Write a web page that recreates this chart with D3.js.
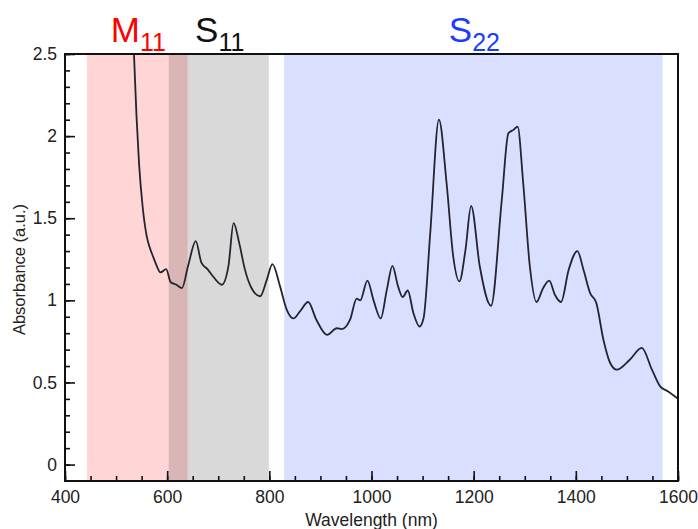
<!DOCTYPE html>
<html>
<head>
<meta charset="utf-8">
<script src="https://cdn.jsdelivr.net/npm/d3@7"></script>
<style>
  html, body { margin: 0; padding: 0; background: #fff; }
  svg { display: block; font-family: "Liberation Sans", Arial, Helvetica, sans-serif; }
</style>
</head>
<body>
<svg id="chart" width="698" height="529"></svg>
<script>
// Absorption spectrum: wavelength (nm) and absorbance (a.u.)
const wavelength = [
  535, 540, 545, 552, 560, 566, 572, 577, 587, 598, 607, 618, 629, 641, 656, 667, 679, 690, 707,
  720, 730, 741, 752, 765, 782, 795, 806, 821, 834, 847, 860, 876, 892, 913, 932, 942, 958,
  971, 978, 992, 1004, 1018, 1030, 1041, 1052, 1061, 1071, 1082, 1094, 1102, 1115, 1132,
  1147, 1160, 1172, 1184, 1195, 1212, 1234, 1255, 1268, 1278, 1286, 1297, 1310, 1323, 1336,
  1348, 1359, 1371, 1386, 1403, 1415, 1428, 1440, 1454, 1467, 1480, 1506, 1529, 1549, 1565,
  1580, 1600
];
const absorbance = [
  2.50, 2.12, 1.83, 1.57, 1.39, 1.32, 1.27, 1.23, 1.17, 1.19, 1.11, 1.095, 1.075, 1.21, 1.36, 1.23, 1.19, 1.145, 1.095,
  1.21, 1.47, 1.35, 1.19, 1.075, 1.025, 1.125, 1.22, 1.085, 0.943, 0.89, 0.933, 0.99, 0.882, 0.79, 0.83, 0.825, 0.882,
  1.01, 1.00, 1.12, 1.00, 0.89, 1.064, 1.21, 1.085, 1.02, 1.06, 0.923, 0.84, 0.892, 1.41, 2.10,
  1.713, 1.267, 1.115, 1.308, 1.575, 1.206, 0.967, 1.61, 2.018, 2.038, 2.058, 1.713, 1.206, 0.99, 1.075,
  1.12, 1.034, 0.99, 1.186, 1.30, 1.186, 1.044, 0.985, 0.76, 0.62, 0.578, 0.64, 0.71, 0.578, 0.476,
  0.446, 0.40
];

// Transition bands (nm)
const bandNames  = ["M11", "S11", "S22"];
const bandStart  = [443, 603, 829];
const bandEnd    = [640, 799, 1570];
const bandFill   = ["rgba(255,0,0,0.165)", "rgba(0,0,0,0.15)", "rgba(0,40,255,0.15)"];
const labelMain  = ["M", "S", "S"];
const labelSub   = ["11", "11", "22"];
const labelColor = ["#ff0000", "#111111", "#1a3cff"];

// Axis ticks
const xMajor = [400, 600, 800, 1000, 1200, 1400, 1600];
const xMinor = d3.range(400, 1601, 50);
const yMajor = [0, 0.5, 1, 1.5, 2, 2.5];
const yMinor = d3.range(0, 2.501, 0.1);
const yTickLabels = ["0", "0.5", "1", "1.5", "2", "2.5"];

const svg = d3.select("#chart");
const plotLeft = 65, plotRight = 678, plotTop = 54, plotBottom = 481;

const x = d3.scaleLinear().domain([400, 1600]).range([plotLeft, plotRight]);
const y = d3.scaleLinear().domain([-0.1, 2.5]).range([plotBottom, plotTop]);

svg.append("defs").append("clipPath").attr("id", "plot-clip")
  .append("rect").attr("x", plotLeft).attr("y", plotTop)
  .attr("width", plotRight - plotLeft).attr("height", plotBottom - plotTop);

// Shaded bands
const bands = svg.append("g");
bandNames.forEach((name, i) => {
  bands.append("rect")
    .attr("x", x(bandStart[i]))
    .attr("y", y(2.5))
    .attr("width", x(bandEnd[i]) - x(bandStart[i]))
    .attr("height", y(-0.1) - y(2.5))
    .attr("fill", bandFill[i]);
});

// Band labels above the frame
bandNames.forEach((name, i) => {
  const t = svg.append("text")
    .attr("x", (x(bandStart[i]) + x(bandEnd[i])) / 2 + 1)
    .attr("y", 42)
    .attr("text-anchor", "middle")
    .attr("fill", labelColor[i]);
  t.append("tspan").attr("font-size", 35).text(labelMain[i]);
  t.append("tspan").attr("font-size", 25).attr("dy", 9).text(labelSub[i]);
});

// Spectrum line
const pts = wavelength.map((w, i) => [w, absorbance[i]]);
const line = d3.line()
  .x(d => x(d[0]))
  .y(d => y(d[1]))
  .curve(d3.curveMonotoneX);

svg.append("path")
  .datum(pts)
  .attr("clip-path", "url(#plot-clip)")
  .attr("fill", "none")
  .attr("stroke", "#24242e")
  .attr("stroke-width", 1.8)
  .attr("stroke-linejoin", "round")
  .attr("d", line);

// Axes with inward ticks
const axisStyle = g => {
  g.select(".domain").remove();
  g.selectAll("line").attr("stroke", "#111").attr("stroke-width", 1.6);
  g.selectAll("text").attr("fill", "#222").attr("font-size", 17.5)
    .attr("font-family", "'Liberation Sans', Arial, Helvetica, sans-serif");
};

svg.append("g").attr("transform", `translate(0,${plotBottom})`)
  .call(d3.axisBottom(x).tickValues(xMinor).tickSizeInner(-5).tickSizeOuter(0).tickFormat(""))
  .call(axisStyle);
svg.append("g").attr("transform", `translate(0,${plotBottom})`)
  .call(d3.axisBottom(x).tickValues(xMajor).tickSizeInner(-10).tickSizeOuter(0).tickPadding(10)
    .tickFormat(d3.format("d")))
  .call(axisStyle);

svg.append("g").attr("transform", `translate(${plotLeft},0)`)
  .call(d3.axisLeft(y).tickValues(yMinor).tickSizeInner(-5).tickSizeOuter(0).tickFormat(""))
  .call(axisStyle);
svg.append("g").attr("transform", `translate(${plotLeft},0)`)
  .call(d3.axisLeft(y).tickValues(yMajor).tickSizeInner(-10).tickSizeOuter(0).tickPadding(8)
    .tickFormat((d, i) => yTickLabels[i]))
  .call(axisStyle);

// Frame
svg.append("rect")
  .attr("x", plotLeft).attr("y", plotTop)
  .attr("width", plotRight - plotLeft).attr("height", plotBottom - plotTop)
  .attr("fill", "none").attr("stroke", "#111").attr("stroke-width", 2);

// Axis titles
svg.append("text")
  .attr("x", (plotLeft + plotRight) / 2).attr("y", 526)
  .attr("text-anchor", "middle").attr("font-size", 17.5).attr("fill", "#222")
  .text("Wavelength (nm)");
svg.append("text")
  .attr("transform", `translate(25,${(plotTop + plotBottom) / 2 + 2}) rotate(-90)`)
  .attr("text-anchor", "middle").attr("font-size", 16.5).attr("fill", "#222")
  .text("Absorbance (a.u.)");
</script>
</body>
</html>
